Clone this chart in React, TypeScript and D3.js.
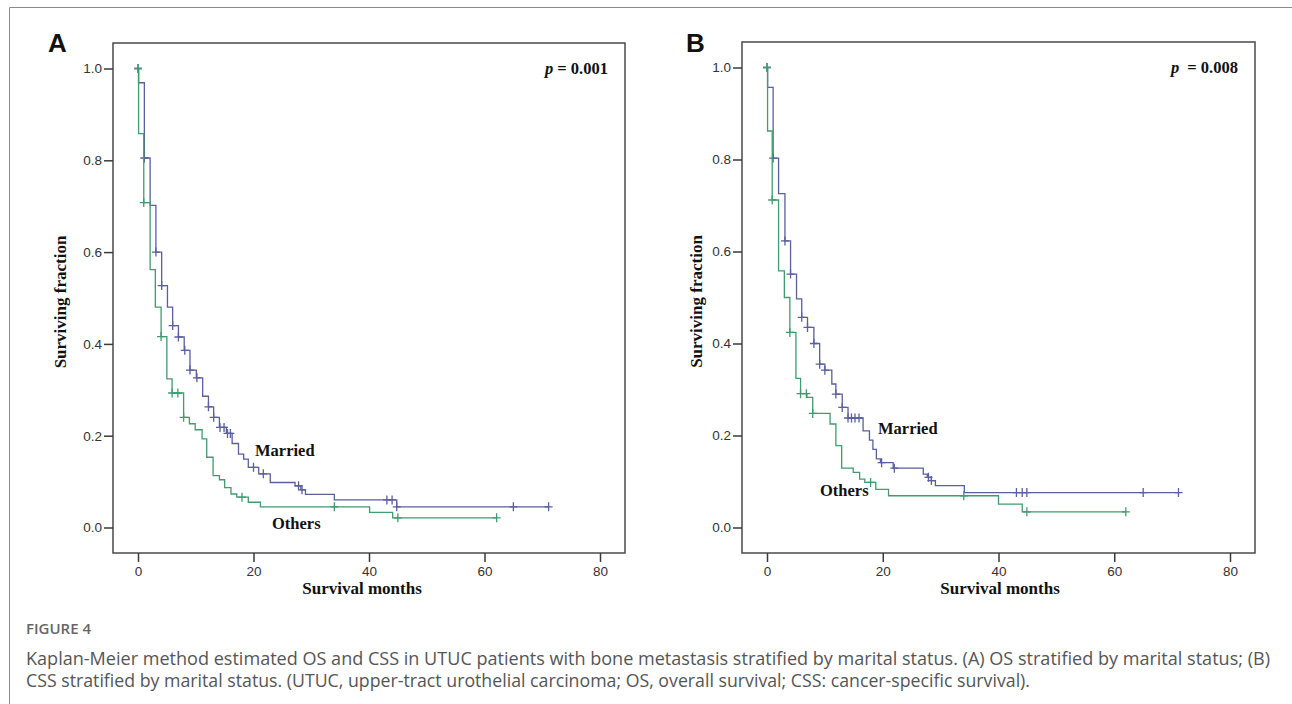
import { useEffect, useRef } from "react";
import * as d3 from "d3";

type Step = [number, number];

const monthTicks = [0, 20, 40, 60, 80];
const fractionTicks = [0, 0.2, 0.4, 0.6, 0.8, 1.0];

// Panel A: overall survival (month, surviving fraction after the drop)
const osMarriedSteps: Step[] = [
  [0.1, 0.969], [1.1, 0.805], [2.1, 0.702], [3.1, 0.6], [4.1, 0.527], [5.1, 0.48],
  [6.0, 0.44], [7.0, 0.415], [8.0, 0.386], [9.0, 0.343], [10.1, 0.326], [11.2, 0.286],
  [12.2, 0.263], [13.1, 0.24], [14.1, 0.218], [15.3, 0.205], [16.3, 0.183], [17.4, 0.16],
  [18.3, 0.149], [19.1, 0.131], [20.9, 0.117], [22.9, 0.098], [27.2, 0.091], [28.2, 0.082],
  [29.0, 0.072], [34.0, 0.06], [44.8, 0.045],
];
const osMarriedCensored = [
  0, 1.1, 3.1, 4.1, 6.0, 7.0, 8.1, 9.0, 10.2, 12.2, 13.1, 14.2, 14.9, 15.5, 16.0,
  20.0, 21.7, 27.8, 28.4, 43.1, 44.0, 44.8, 65.0, 71.1,
];
const osOthersSteps: Step[] = [
  [0.1, 0.858], [1.0, 0.708], [2.1, 0.562], [3.0, 0.48], [4.0, 0.416], [5.0, 0.324],
  [5.9, 0.293], [7.9, 0.24], [8.9, 0.226], [9.9, 0.213], [11.1, 0.193], [11.9, 0.153],
  [13.0, 0.113], [14.1, 0.104], [15.0, 0.087], [16.1, 0.073], [17.1, 0.066], [19.1, 0.055],
  [21.2, 0.045], [40.1, 0.033], [44.1, 0.021],
];
const osOthersCensored = [0, 1.0, 4.0, 5.9, 6.9, 7.9, 18.0, 34.0, 45.0, 62.1];

// Panel B: cancer-specific survival
const cssMarriedSteps: Step[] = [
  [0.1, 0.957], [1.06, 0.803], [2.0, 0.726], [3.1, 0.623], [4.07, 0.551], [5.1, 0.497],
  [6.0, 0.457], [7.0, 0.435], [8.1, 0.4], [9.1, 0.355], [10.0, 0.342], [11.2, 0.312],
  [11.9, 0.29], [13.0, 0.261], [14.0, 0.238], [16.6, 0.21], [17.7, 0.19], [18.3, 0.17],
  [18.9, 0.149], [19.6, 0.141], [21.8, 0.129], [27.0, 0.116], [27.7, 0.109], [28.4, 0.102],
  [29.1, 0.091], [34.1, 0.076],
];
const cssMarriedCensored = [
  0, 1.06, 3.1, 4.07, 6.0, 7.0, 8.1, 9.1, 10.0, 11.9, 13.0, 14.0, 14.6, 15.2, 15.9,
  19.8, 22.0, 27.9, 28.4, 43.1, 44.1, 44.9, 65.0, 71.1,
];
const cssOthersSteps: Step[] = [
  [0.1, 0.862], [0.9, 0.712], [2.0, 0.558], [3.0, 0.5], [3.95, 0.424], [5.0, 0.324],
  [5.8, 0.291], [6.9, 0.283], [7.9, 0.248], [10.9, 0.225], [11.9, 0.178], [12.9, 0.129],
  [14.9, 0.12], [16.0, 0.105], [16.9, 0.098], [18.8, 0.083], [21.0, 0.069], [40.0, 0.051],
  [44.1, 0.034],
];
const cssOthersCensored = [0, 0.9, 3.95, 5.8, 6.8, 7.9, 17.9, 34.0, 44.9, 62.0];

const groupNames = ["Married", "Others"];
const pValues = ["0.001", "0.008"];
const panelLetters = ["A", "B"];

const BLUE = "#5a5f9e";
const GREEN = "#3f9c6f";
const SERIF = "'Liberation Serif', 'Times New Roman', serif";
const SANS = "'Liberation Sans', Arial, sans-serif";
const CAPTION_FONT = "'Open Sans', sans-serif";

interface PanelLayout {
  frame: { x: number; y: number; w: number; h: number };
  letterX: number;
  yTitleX: number;
  xTitleX: number;
  pGap: number;
  marriedAt: [number, number];
  othersAt: [number, number];
}

const layouts: PanelLayout[] = [
  {
    frame: { x: 113, y: 43, w: 512, h: 510 },
    letterX: 48,
    yTitleX: 60,
    xTitleX: 362,
    pGap: 0,
    marriedAt: [255, 450],
    othersAt: [272, 523],
  },
  {
    frame: { x: 742, y: 42, w: 513, h: 511 },
    letterX: 686,
    yTitleX: 696,
    xTitleX: 1000,
    pGap: 4,
    marriedAt: [878, 428],
    othersAt: [820, 490],
  },
];

const panelSeries = [
  [
    { steps: osMarriedSteps, censored: osMarriedCensored, color: BLUE },
    { steps: osOthersSteps, censored: osOthersCensored, color: GREEN },
  ],
  [
    { steps: cssMarriedSteps, censored: cssMarriedCensored, color: BLUE },
    { steps: cssOthersSteps, censored: cssOthersCensored, color: GREEN },
  ],
];

function survivalAt(steps: Step[], t: number) {
  let s = 1;
  for (const [st, v] of steps) if (st <= t) s = v;
  return s;
}

const captionLines = [
  "Kaplan-Meier method estimated OS and CSS in UTUC patients with bone metastasis stratified by marital status. (A) OS stratified by marital status; (B)",
  "CSS stratified by marital status. (UTUC, upper-tract urothelial carcinoma; OS, overall survival; CSS: cancer-specific survival).",
];
// rendered widths of the caption lines in the figure
const captionWidths = [1244, 1004];

export default function App() {
  const svgRef = useRef<SVGSVGElement>(null);

  useEffect(() => {
    if (!svgRef.current) return;
    const svg = d3.select(svgRef.current);
    svg.selectAll("*").remove();

    // outer figure border (top and left)
    svg.append("path")
      .attr("d", "M9.5,704V7.5H1292")
      .attr("fill", "none")
      .attr("stroke", "#8a8a8a")
      .attr("stroke-width", 1);

    layouts.forEach((lay, i) => {
      const f = lay.frame;
      const g = svg.append("g");
      const x = d3.scaleLinear().domain([0, 80]).range([f.x + 25, f.x + f.w - 25]);
      const y = d3.scaleLinear().domain([0, 1]).range([f.y + f.h - 25.5, f.y + 25.5]);

      g.append("rect")
        .attr("x", f.x).attr("y", f.y)
        .attr("width", f.w).attr("height", f.h)
        .attr("fill", "none")
        .attr("stroke", "#4a4a4a")
        .attr("stroke-width", 1.5);

      // Axes
      const yAxis = g.append("g")
        .attr("transform", `translate(${f.x},0)`)
        .call(d3.axisLeft(y).tickValues(fractionTicks).tickFormat(d3.format(".1f")).tickSize(9).tickPadding(2));
      const xAxis = g.append("g")
        .attr("transform", `translate(0,${f.y + f.h})`)
        .call(d3.axisBottom(x).tickValues(monthTicks).tickSize(9).tickPadding(4));
      [yAxis, xAxis].forEach((ax) => {
        ax.select(".domain").remove();
        ax.selectAll(".tick line").attr("stroke", "#3a3a3a").attr("stroke-width", 1.5);
        ax.selectAll(".tick text")
          .attr("fill", "#333")
          .style("font-family", SANS)
          .style("font-size", "13.5px");
      });

      // Curves
      const line = d3.line<Step>()
        .x((d) => x(d[0]))
        .y((d) => y(d[1]))
        .curve(d3.curveStepAfter);

      panelSeries[i].forEach((ser) => {
        const end = d3.max(ser.censored) as number;
        const pts: Step[] = [[0, 1], ...ser.steps, [end, survivalAt(ser.steps, end)]];
        g.append("path")
          .attr("d", line(pts))
          .attr("fill", "none")
          .attr("stroke", ser.color)
          .attr("stroke-width", 1.3);
        g.append("g")
          .selectAll("path")
          .data(ser.censored)
          .join("path")
          .attr("d", (c) => {
            const cx = x(c);
            const cy = y(survivalAt(ser.steps, c));
            return `M${cx - 4},${cy}h8M${cx},${cy - 4.5}v9`;
          })
          .attr("stroke", ser.color)
          .attr("stroke-width", 1.3);
      });

      // Texts
      g.append("text")
        .attr("x", lay.letterX).attr("y", 52)
        .style("font-family", SANS).style("font-weight", "bold").style("font-size", "26px")
        .attr("fill", "#111")
        .text(panelLetters[i]);

      const pt = g.append("text")
        .attr("x", f.x + f.w - 17).attr("y", f.y + 31)
        .attr("text-anchor", "end")
        .style("font-family", SERIF).style("font-weight", "bold").style("font-size", "16.5px")
        .attr("fill", "#111");
      pt.append("tspan").style("font-style", "italic").text("p");
      pt.append("tspan").attr("dx", lay.pGap).text(` = ${pValues[i]}`);

      g.append("text")
        .attr("transform", `translate(${lay.yTitleX},${f.y + f.h / 2 + 4}) rotate(-90)`)
        .attr("text-anchor", "middle")
        .attr("dominant-baseline", "central")
        .style("font-family", SERIF).style("font-weight", "bold").style("font-size", "17px")
        .attr("fill", "#111")
        .text("Surviving fraction");

      g.append("text")
        .attr("x", lay.xTitleX).attr("y", 588)
        .attr("text-anchor", "middle")
        .attr("dominant-baseline", "central")
        .style("font-family", SERIF).style("font-weight", "bold").style("font-size", "17px")
        .attr("fill", "#111")
        .text("Survival months");

      [lay.marriedAt, lay.othersAt].forEach((pos, k) => {
        g.append("text")
          .attr("x", pos[0]).attr("y", pos[1])
          .attr("dominant-baseline", "central")
          .style("font-family", SERIF).style("font-weight", "bold").style("font-size", "16.5px")
          .attr("fill", "#111")
          .text(groupNames[k]);
      });
    });

    // Caption
    svg.append("text")
      .attr("x", 26).attr("y", 634)
      .style("font-family", CAPTION_FONT).style("font-weight", 600).style("font-size", "15px")
      .attr("fill", "#666")
      .text("FIGURE 4");

    svg.append("g")
      .selectAll("text")
      .data(captionLines)
      .join("text")
      .attr("x", 26)
      .attr("y", (_d, k) => 665 + k * 22)
      .attr("textLength", (_d, k) => captionWidths[k])
      .attr("lengthAdjust", "spacingAndGlyphs")
      .style("font-family", CAPTION_FONT).style("font-size", "17.5px")
      .attr("fill", "#555")
      .text((d) => d);
  }, []);

  return (
    <svg
      ref={svgRef}
      width={1292}
      height={704}
      style={{ position: "absolute", left: 0, top: 0, background: "#fff" }}
    />
  );
}
